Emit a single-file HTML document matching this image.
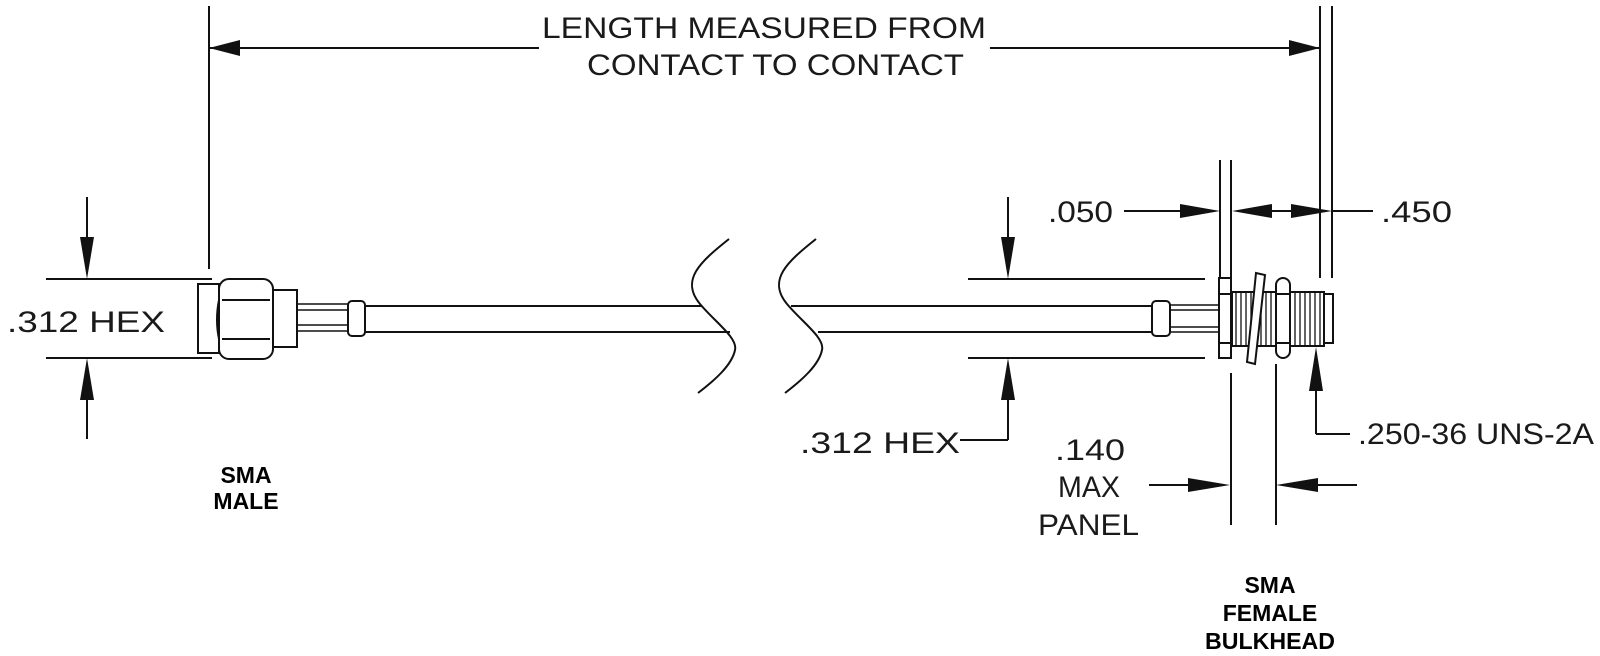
<!DOCTYPE html>
<html><head><meta charset="utf-8"><style>
html,body{margin:0;padding:0;background:#fff;}
svg{display:block;}
text{font-family:"Liberation Sans",sans-serif;fill:#1a1a1a;}
.t{font-size:30px;}
.b{font-size:23px;font-weight:bold;fill:#000;}
</style></head><body>
<svg width="1600" height="656" viewBox="0 0 1600 656" xmlns="http://www.w3.org/2000/svg">
<g stroke="#111" stroke-width="2" fill="none">
<line x1="209" y1="6" x2="209" y2="269"/>
<line x1="1320" y1="6" x2="1320" y2="278"/>
<line x1="1332" y1="6" x2="1332" y2="278"/>
<line x1="1220" y1="160" x2="1220" y2="278"/>
<line x1="1231" y1="160" x2="1231" y2="278"/>
<line x1="209" y1="48" x2="539" y2="48"/>
<line x1="990" y1="48" x2="1320" y2="48"/>
<line x1="46" y1="279" x2="212" y2="279"/>
<line x1="46" y1="358" x2="212" y2="358"/>
<line x1="87" y1="197" x2="87" y2="250"/>
<line x1="87" y1="390" x2="87" y2="439"/>
<rect x="198" y="284" width="21" height="69" fill="#fff"/>
<rect x="219" y="279" width="54" height="80" rx="10" fill="#fff"/>
<path d="M222 300 H270 M222 339 H270"/>
<path d="M219 300 Q215 320 219 339 M273 300 Q277 320 273 339"/>
<rect x="273" y="290" width="24" height="57" fill="#fff"/>
<path d="M297 304 H348 M297 310 H348 M297 325 H348 M297 331 H348" stroke-width="1.6"/>
<rect x="348" y="301" width="17" height="35" rx="4" fill="#fff"/>
<line x1="365" y1="306" x2="702" y2="306"/>
<line x1="365" y1="332" x2="730" y2="332"/>
<path d="M729 239 C700 262 680 280 700 304 C715 322 738 338 735 350 C732 365 715 380 698 393"/>
<path d="M816 239 C787 262 767 280 787 304 C802 322 825 338 822 350 C819 365 802 380 785 393"/>
<line x1="791" y1="306" x2="1152" y2="306"/>
<line x1="818" y1="332" x2="1152" y2="332"/>
<line x1="968" y1="279" x2="1205" y2="279"/>
<line x1="968" y1="358" x2="1205" y2="358"/>
<line x1="1008" y1="197" x2="1008" y2="250"/>
<line x1="1008" y1="390" x2="1008" y2="440"/>
<line x1="960" y1="440" x2="1008" y2="440"/>
<line x1="1124" y1="211" x2="1200" y2="211"/>
<line x1="1250" y1="211" x2="1300" y2="211"/>
<line x1="1332" y1="211" x2="1373" y2="211"/>
<rect x="1152" y="301" width="18" height="35" rx="4" fill="#fff"/>
<path d="M1170 305 H1220 M1170 310 H1220 M1170 327 H1220 M1170 332 H1220" stroke-width="1.6"/>
<rect x="1232" y="292" width="44" height="54" fill="#fff"/>
<path d="M1236 292 V346 M1241 292 V346 M1246 292 V346 M1251 292 V346 M1256 292 V346 M1261 292 V346 M1266 292 V346 M1271 292 V346" stroke-width="1.3"/>
<rect x="1290" y="292" width="34" height="54" fill="#fff"/>
<path d="M1295 292 V346 M1300 292 V346 M1305 292 V346 M1310 292 V346 M1315 292 V346 M1320 292 V346" stroke-width="1.3"/>
<rect x="1324" y="294" width="9" height="49" fill="#fff"/>
<polygon points="1256,273 1265,275 1255,364 1247,362" fill="#fff"/>
<rect x="1276" y="278" width="14" height="80" rx="7" fill="#fff"/>
<path d="M1277 294 H1289 M1277 343 H1289"/>
<rect x="1219" y="278" width="12" height="80" fill="#fff"/>
<path d="M1219 294 H1231 M1219 343 H1231"/>
<line x1="1316" y1="390" x2="1316" y2="434"/>
<line x1="1316" y1="434" x2="1350" y2="434"/>
<line x1="1231" y1="373" x2="1231" y2="525"/>
<line x1="1276" y1="364" x2="1276" y2="525"/>
<line x1="1149" y1="485" x2="1200" y2="485"/>
<line x1="1310" y1="485" x2="1357" y2="485"/>
</g>
<g fill="#111">
<polygon points="209,48 240,40 240,56"/>
<polygon points="1320,48 1289,40 1289,56"/>
<polygon points="87,279 80,237 94,237"/>
<polygon points="87,358 80,400 94,400"/>
<polygon points="1008,279 1001,237 1015,237"/>
<polygon points="1008,358 1001,400 1015,400"/>
<polygon points="1220,211 1180,204 1180,218"/>
<polygon points="1232,211 1272,204 1272,218"/>
<polygon points="1332,211 1291,204 1291,218"/>
<polygon points="1316,347 1309,391 1323,391"/>
<polygon points="1230,485 1188,478 1188,492"/>
<polygon points="1276,485 1318,478 1318,492"/>
</g>
<text class="t" x="542" y="38" textLength="444" lengthAdjust="spacingAndGlyphs">LENGTH MEASURED FROM</text>
<text class="t" x="587" y="75" textLength="377" lengthAdjust="spacingAndGlyphs">CONTACT TO CONTACT</text>
<text class="t" x="7" y="332" textLength="158" lengthAdjust="spacingAndGlyphs">.312 HEX</text>
<text class="t" x="800" y="453" textLength="160" lengthAdjust="spacingAndGlyphs">.312 HEX</text>
<text class="t" x="1048" y="222" textLength="65" lengthAdjust="spacingAndGlyphs">.050</text>
<text class="t" x="1381" y="222" textLength="71" lengthAdjust="spacingAndGlyphs">.450</text>
<text class="t" x="1358" y="444" textLength="236" lengthAdjust="spacingAndGlyphs">.250-36 UNS-2A</text>
<text class="t" x="1055" y="460" textLength="70" lengthAdjust="spacingAndGlyphs">.140</text>
<text class="t" x="1058" y="497" textLength="62" lengthAdjust="spacingAndGlyphs">MAX</text>
<text class="t" x="1038" y="535" textLength="101" lengthAdjust="spacingAndGlyphs">PANEL</text>
<text class="b" x="246" y="483" text-anchor="middle">SMA</text>
<text class="b" x="246" y="509" text-anchor="middle">MALE</text>
<text class="b" x="1270" y="593" text-anchor="middle">SMA</text>
<text class="b" x="1270" y="621" text-anchor="middle">FEMALE</text>
<text class="b" x="1270" y="649" text-anchor="middle" textLength="130" lengthAdjust="spacingAndGlyphs">BULKHEAD</text>
</svg>
</body></html>
